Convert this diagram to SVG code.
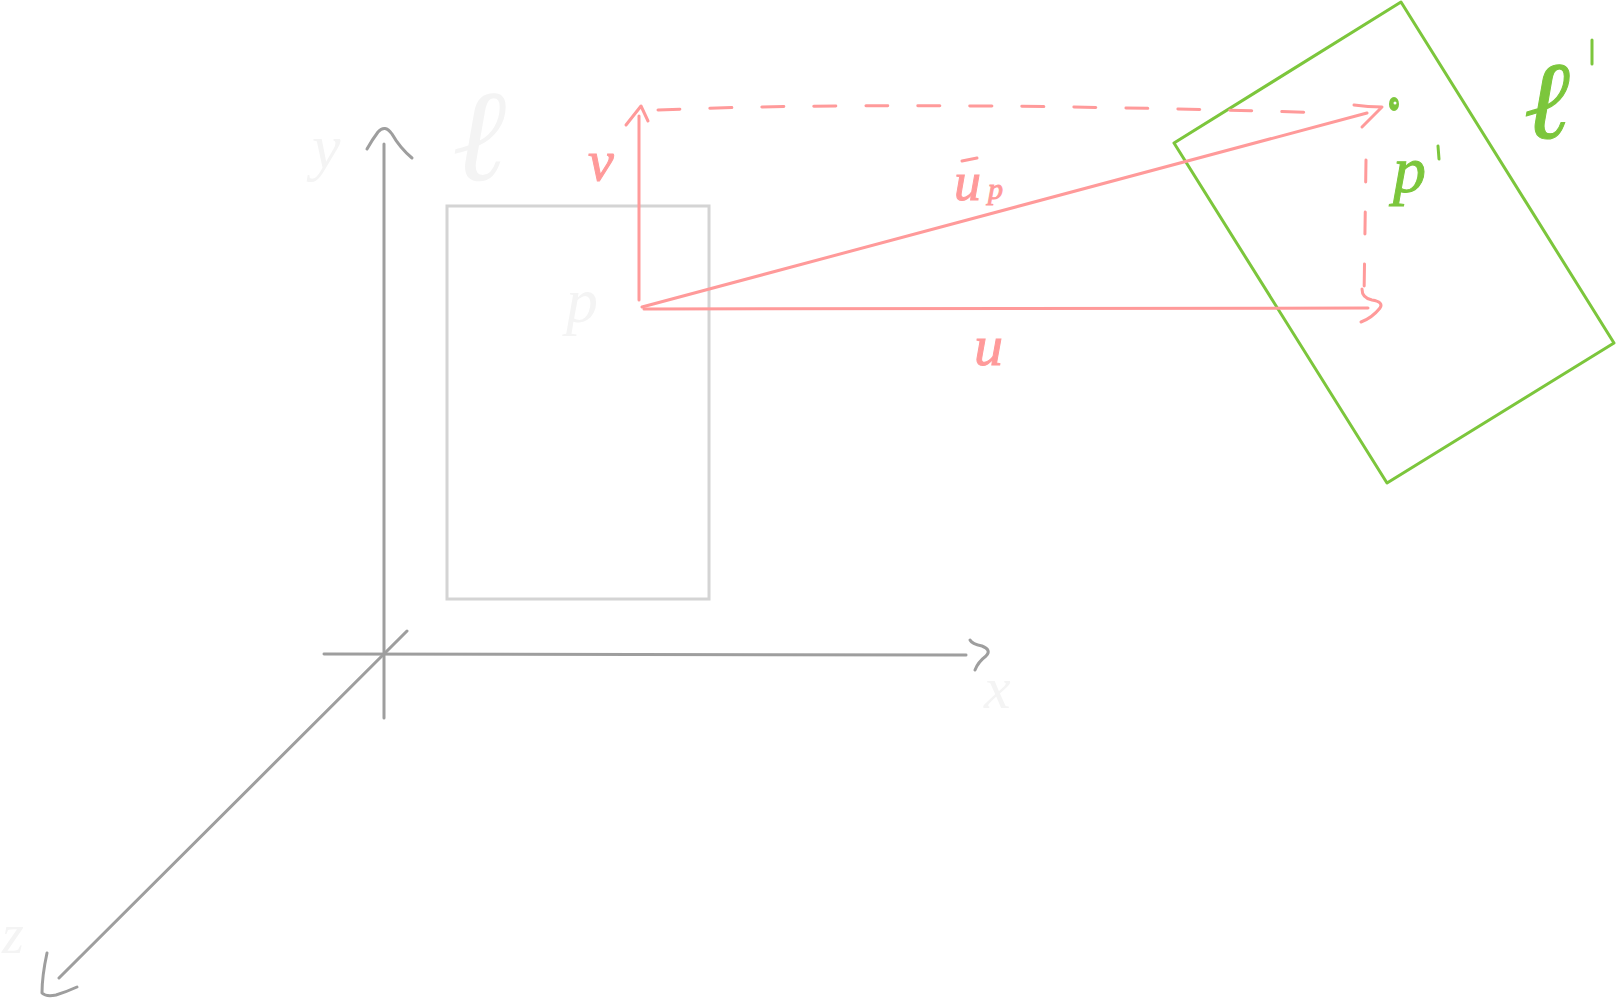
<svg xmlns="http://www.w3.org/2000/svg" width="1616" height="1000" viewBox="0 0 1616 1000">
<style>
.ax{stroke:#9e9e9e;stroke-width:3;fill:none;stroke-linecap:round;stroke-linejoin:round}
.pk{stroke:#ff9a9a;stroke-width:3;fill:none;stroke-linecap:round;stroke-linejoin:round}
.dash{stroke-dasharray:22 30}
.gr{stroke:#7cc63c;stroke-width:3;fill:none;stroke-linejoin:round}
.lbl{font-family:"Liberation Serif",serif;font-style:italic}
.faint{fill:#f4f4f4}
.pkt{fill:#ff9a9a;stroke:#ff9a9a;stroke-width:1}
.grt{fill:#7cc63c;stroke:#7cc63c;stroke-width:1}
</style>
<rect width="1616" height="1000" fill="#ffffff"/>
<g id="axes">
<path class="ax" d="M384 144 L384 718"/>
<path class="ax" d="M367 149 Q372 140 378 132 Q385 124 392 134 Q400 148 412 158"/>
<path class="ax" d="M324 654 L966 655"/>
<path class="ax" d="M970 640 Q972 644 982 646 Q992 650 986 656 Q978 662 975 670"/>
<path class="ax" d="M407 631 L59 978"/>
<path class="ax" d="M47 953 Q42 976 42 993 Q46 997 56 995 Q66 992 77 987"/>
</g>
<g id="plane-C">
<rect x="447" y="206" width="262" height="393" fill="none" stroke="#d4d4d4" stroke-width="3"/>
</g>
<g id="plane-C-prime">
<polygon class="gr" points="1174,143 1401,2 1614,343 1387,483"/>
</g>
<g id="point-p-prime">
<ellipse cx="1394" cy="104" rx="5" ry="7" fill="#7cc63c"/>
<circle cx="1395" cy="103" r="1.5" fill="#ffffff"/>
</g>
<g id="connectors">
<path class="pk" d="M639 300 L639 116"/>
<path class="pk" d="M626 125 L641 106 L648 121"/>
<path class="pk" d="M644 309 L1368 308"/>
<path class="pk" d="M1362 289 Q1362 298 1372 300 Q1384 302 1380 308 Q1372 318 1361 322"/>
<path class="pk" d="M642 307 L1367 113"/>
<path class="pk" d="M1354 105 Q1368 107 1382 107 Q1372 117 1362 127"/>
<path class="pk dash" d="M658 110 Q900 100 1329 113"/>
<path class="pk dash" d="M1366 160 L1364 299"/>
</g>
<g id="labels">
<text class="lbl pkt" x="588" y="180" font-size="58">v</text>
<text class="lbl pkt" x="954" y="200" font-size="54">u</text>
<path class="pk" d="M962 161 L977 158"/>
<text class="lbl pkt" x="988" y="199" font-size="30">p</text>
<text class="lbl pkt" x="974" y="365" font-size="58">u</text>
<text class="lbl grt" x="1393" y="192" font-size="66">p</text>
<path class="gr" d="M1438 146 L1439 159" stroke-linecap="round"/>
<text class="lbl grt" x="1524" y="138" font-size="110">ℓ</text>
<path class="gr" d="M1592 40 L1592 64" stroke-linecap="round"/>
<text class="lbl faint" x="312" y="168" font-size="64">y</text>
<text class="lbl faint" x="452" y="180" font-size="130">ℓ</text>
<text class="lbl faint" x="566" y="322" font-size="64">p</text>
<text class="lbl faint" x="984" y="708" font-size="60">x</text>
<text class="lbl faint" x="2" y="953" font-size="56">z</text>
</g>
</svg>
